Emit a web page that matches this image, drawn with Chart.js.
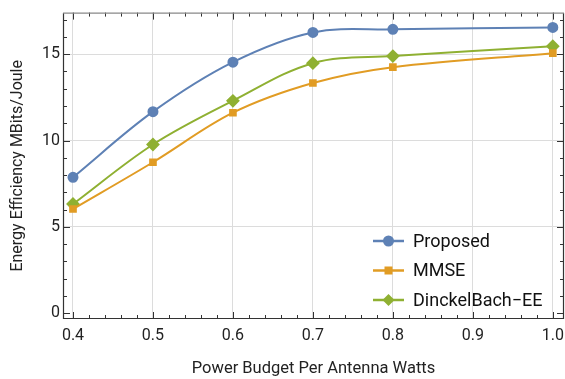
<!DOCTYPE html>
<html><head><meta charset="utf-8">
<script src="https://cdn.jsdelivr.net/npm/chart.js@4/dist/chart.umd.min.js"></script>
<style>html,body{margin:0;padding:0;background:#fff}#wrap{width:565px;height:379px}</style>
</head><body><div id="wrap"><canvas id="c" width="565" height="379"></canvas></div>
<script>
const xValues = [0.4, 0.5, 0.6, 0.7, 0.8, 1.0];
const proposed = [7.87, 11.67, 14.54, 16.26, 16.44, 16.55];
const mmse = [6.03, 8.74, 11.61, 13.33, 14.25, 15.06];
const dinkelbach = [6.32, 9.77, 12.30, 14.48, 14.89, 15.46];
const seriesNames = ['Proposed', 'MMSE', 'DinckelBach\u2212EE'];
const xTicks = [0.4, 0.5, 0.6, 0.7, 0.8, 0.9, 1.0];
const yTicks = [0, 5, 10, 15];
const colors = ['#5E81B5', '#E19C24', '#8FB032'];
const styles = ['circle', 'rect', 'rectRot'];
const radii = [4.5, 4, 5.5];

const FONT = 'Roboto, "Liberation Sans", sans-serif';
const toPts = arr => arr.map((v, i) => ({x: xValues[i], y: v}));
const allSeries = [proposed, mmse, dinkelbach];

const datasets = allSeries.map((s, i) => ({
  label: seriesNames[i], data: toPts(s), showLine: true,
  borderColor: colors[i], backgroundColor: colors[i], borderWidth: 2,
  pointStyle: styles[i], pointRadius: radii[i], pointHoverRadius: radii[i],
  tension: 0.35
}));

const framePlugin = {
  id: 'frame',
  afterDatasetsDraw(chart) {
    const {ctx, chartArea: a, scales: {x, y}} = chart;
    ctx.save();
    ctx.strokeStyle = '#333';
    ctx.lineWidth = 1;
    for (let k = 0; k <= 31; k++) {
      const v = 0.4 + k * 0.02;
      if (v > x.max) break;
      const px = Math.round(x.getPixelForValue(v)) + 0.5;
      const len = (k % 5 === 0) ? 7 : 4;
      ctx.beginPath();
      ctx.moveTo(px, a.bottom); ctx.lineTo(px, a.bottom - len);
      ctx.moveTo(px, a.top); ctx.lineTo(px, a.top + len);
      ctx.stroke();
    }
    for (let v = 0; v <= 17; v++) {
      const py = Math.round(y.getPixelForValue(v)) + 0.5;
      const len = (v % 5 === 0) ? 7 : 4;
      ctx.beginPath();
      ctx.moveTo(a.left, py); ctx.lineTo(a.left + len, py);
      ctx.moveTo(a.right, py); ctx.lineTo(a.right - len, py);
      ctx.stroke();
    }
    ctx.lineWidth = 1.2;
    ctx.beginPath();
    ctx.moveTo(a.left + 0.5, a.top + 0.5); ctx.lineTo(a.left + 0.5, a.bottom - 0.5);
    ctx.lineTo(a.right - 0.5, a.bottom - 0.5); ctx.lineTo(a.right - 0.5, a.top + 0.5);
    ctx.stroke();
    ctx.strokeStyle = '#888';
    ctx.beginPath(); ctx.moveTo(a.left, a.top + 0.5); ctx.lineTo(a.right, a.top + 0.5); ctx.stroke();
    // x tick labels
    ctx.fillStyle = '#222';
    ctx.font = '16px ' + FONT;
    ctx.textAlign = 'center';
    ctx.textBaseline = 'middle';
    xTicks.forEach(v => ctx.fillText(v.toFixed(1), x.getPixelForValue(v), a.bottom + 17));
    // legend
    const lx = 373, ly0 = 241, dy = 29.5;
    ctx.font = '18px ' + FONT;
    ctx.textAlign = 'left';
    for (let i = 0; i < 3; i++) {
      const yy = ly0 + i * dy;
      ctx.strokeStyle = colors[i]; ctx.lineWidth = 2.5;
      ctx.beginPath(); ctx.moveTo(lx, yy); ctx.lineTo(lx + 31, yy); ctx.stroke();
      ctx.fillStyle = colors[i];
      const c = lx + 15.5;
      if (styles[i] === 'circle') { ctx.beginPath(); ctx.arc(c, yy, 5.5, 0, Math.PI * 2); ctx.fill(); }
      else if (styles[i] === 'rect') { ctx.fillRect(c - 4, yy - 4, 8, 8); }
      else { ctx.beginPath(); ctx.moveTo(c, yy - 6); ctx.lineTo(c + 6, yy); ctx.lineTo(c, yy + 6); ctx.lineTo(c - 6, yy); ctx.closePath(); ctx.fill(); }
      ctx.fillStyle = '#111';
      ctx.fillText(seriesNames[i], 413, yy + 1);
    }
    ctx.restore();
  }
};

new Chart(document.getElementById('c'), {
  type: 'scatter',
  data: {datasets},
  options: {
    responsive: false, animation: false,
    layout: {autoPadding: false, padding: {top: 10, right: 1, left: 0, bottom: 0}},
    plugins: {legend: {display: false}, tooltip: {enabled: false}},
    scales: {
      x: {
        type: 'linear', min: 0.3875, max: 1.014,
        afterBuildTicks: s => { s.ticks = xTicks.map(v => ({value: v})); },
        afterFit: s => { s.height = 60; },
        ticks: {display: false},
        grid: {color: '#dcdcdc', drawTicks: false, lineWidth: 1},
        border: {display: false},
        title: {display: true, text: 'Power Budget Per Antenna Watts', font: {size: 16.5, family: FONT}, color: '#222', padding: {top: 0, bottom: 0}}
      },
      y: {
        type: 'linear', min: -0.34, max: 17.41,
        afterBuildTicks: s => { s.ticks = yTicks.map(v => ({value: v})); },
        afterFit: s => { s.width = 63; },
        ticks: {font: {size: 16, family: FONT}, color: '#222', padding: 3},
        grid: {color: c => c.tick && c.tick.value === 0 ? 'rgba(0,0,0,0)' : '#dcdcdc', drawTicks: false, lineWidth: 1},
        border: {display: false},
        title: {display: true, text: 'Energy Efficiency MBits/Joule', font: {size: 16, family: FONT}, color: '#222', padding: {top: 8, bottom: 0}}
      }
    }
  },
  plugins: [framePlugin]
});
</script></body></html>
